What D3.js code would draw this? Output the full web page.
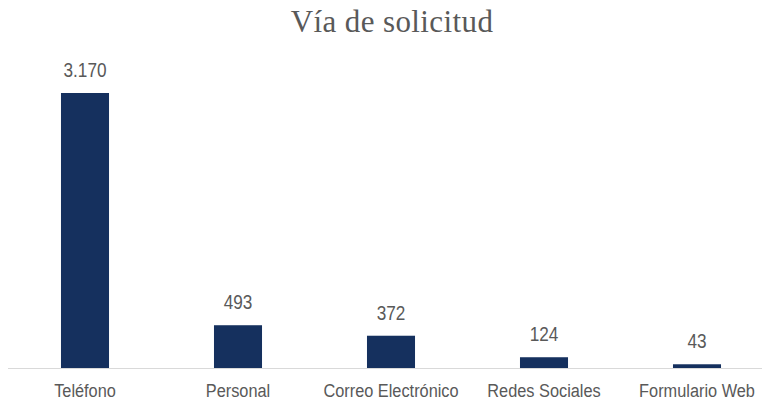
<!DOCTYPE html>
<html lang="es">
<head>
    <meta charset="UTF-8">
    <title>Vía de solicitud</title>
    <script src="https://d3js.org/d3.v7.min.js"></script>
    <style>
        body { margin: 0; background: white; }
        .lbl { font-family: 'Liberation Sans', Arial, sans-serif; fill: #595959; }
    </style>
</head>
<body>
    <div id="chart"></div>
    <script>
        // data
        const categories = ["Teléfono", "Personal", "Correo Electrónico", "Redes Sociales", "Formulario Web"];
        const values = [3170, 493, 372, 124, 43];
        const valueLabels = ["3.170", "493", "372", "124", "43"];

        const W = 762, H = 403;
        const narrow = 0.86; // labels use a condensed face in the original
        const svg = d3.select("#chart").append("svg")
            .attr("width", W)
            .attr("height", H);

        // scales
        const x = d3.scaleBand()
            .domain(categories)
            .range([8.5, 773.5])
            .paddingInner(0.686)
            .paddingOuter(0.343);
        const y = d3.scaleLinear()
            .domain([0, 3170])
            .range([368, 93]);

        // title
        svg.append("text")
            .attr("x", 392)
            .attr("y", 32)
            .attr("text-anchor", "middle")
            .style("font-family", "'Liberation Serif', 'Times New Roman', serif")
            .style("font-size", "31px")
            .style("letter-spacing", "0.4px")
            .attr("fill", "#595959")
            .text("Vía de solicitud");

        // bars
        svg.append("g").selectAll("rect")
            .data(values)
            .join("rect")
            .attr("x", (d, i) => x(categories[i]))
            .attr("y", d => y(d))
            .attr("width", x.bandwidth())
            .attr("height", d => y(0) - y(d))
            .attr("fill", "#15305e");

        // axis line
        svg.append("line")
            .attr("x1", 8).attr("x2", W)
            .attr("y1", y(0) + 0.5).attr("y2", y(0) + 0.5)
            .attr("stroke", "#d9d9d9")
            .attr("stroke-width", 1);

        // value labels
        svg.append("g").selectAll("text")
            .data(values)
            .join("text")
            .attr("class", "lbl")
            .attr("transform", (d, i) => `translate(${x(categories[i]) + x.bandwidth() / 2},${y(d) - 16}) scale(${narrow},1)`)
            .attr("text-anchor", "middle")
            .style("font-size", "20px")
            .text((d, i) => valueLabels[i]);

        // category labels
        svg.append("g").selectAll("text")
            .data(categories)
            .join("text")
            .attr("class", "lbl")
            .attr("transform", d => `translate(${x(d) + x.bandwidth() / 2},397) scale(${narrow},1)`)
            .attr("text-anchor", "middle")
            .style("font-size", "19px")
            .text(d => d);
    </script>
</body>
</html>
